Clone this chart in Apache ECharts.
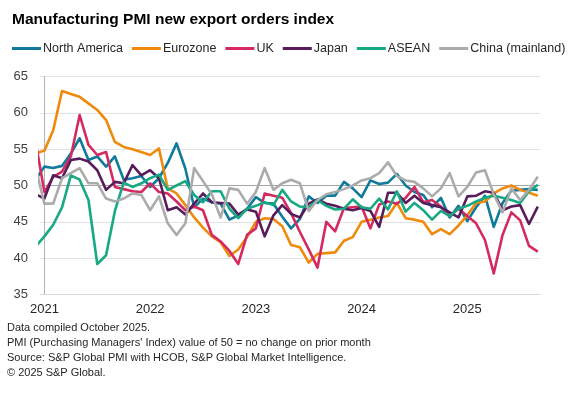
<!DOCTYPE html>
<html><head><meta charset="utf-8">
<script src="https://cdn.jsdelivr.net/npm/echarts@6/dist/echarts.min.js"></script>
<style>html,body{margin:0;padding:0;background:#fff}#c{width:580px;height:397px}</style>
</head><body><div id="c"></div>
<script>
// Monthly series, Dec 2020 (partly clipped at left edge) to Sep 2025
const firstMonth = { year: 2020, month: 12 };
const yearLabels = ['2021', '2022', '2023', '2024', '2025'];
const yearTickIndex = [0, 12, 24, 36, 48];
const yTicks = [35, 40, 45, 50, 55, 60, 65];

const northAmerica = [50.8, 52.6, 52.4, 52.7, 54.4, 56.5, 53.5, 54.0, 52.6, 54.0, 50.8,
  51.0, 51.3, 49.8, 51.0, 53.1, 55.8, 52.3, 47.0, 48.2, 47.7,
  47.5, 45.3, 45.9, 46.8, 48.4, 47.6, 47.5, 45.7, 44.1, 45.4,
  48.5, 47.6, 48.6, 48.6, 50.5, 49.6, 48.4, 50.7, 50.2, 50.4,
  51.6, 50.0, 49.1, 48.7, 47.0, 48.3, 45.6, 47.2, 45.1, 47.0,
  48.6, 44.3, 47.6, 49.3, 49.4, 49.5, 49.4];
const eurozone = [54.4, 54.8, 57.6, 63.0, 62.6, 62.2, 61.3, 60.4, 59.0, 56.0, 55.3,
  55.0, 54.6, 54.2, 55.1, 49.6, 48.9, 47.3, 45.6, 44.2, 43.0,
  42.2, 40.3, 41.2, 42.9, 45.0, 45.5, 45.4, 44.4, 41.8, 41.5,
  39.4, 40.6, 40.7, 40.8, 42.4, 42.9, 45.0, 45.3, 45.6, 45.8,
  47.6, 45.5, 45.3, 45.0, 43.3, 44.0, 43.3, 44.5, 45.9, 47.6,
  47.8, 48.9, 49.6, 50.0, 49.4, 49.0, 48.6];
const uk = [56.0, 49.1, 51.2, 51.9, 54.0, 59.7, 55.6, 54.2, 54.6, 49.8, 49.5,
  49.2, 49.1, 50.3, 49.1, 48.9, 47.8, 46.6, 47.1, 46.6, 43.2,
  42.3, 41.0, 39.2, 43.2, 44.1, 48.9, 48.6, 48.3, 46.2, 43.6,
  41.2, 38.7, 45.0, 43.7, 46.9, 47.0, 47.1, 44.1, 47.4, 47.8,
  47.5, 48.3, 49.8, 47.7, 48.0, 47.1, 45.8, 46.8, 45.8, 44.8,
  42.5, 37.9, 43.2, 46.3, 45.2, 41.7, 40.9];
const japan = [48.8, 48.2, 51.4, 51.0, 53.5, 53.7, 53.3, 52.1, 49.4, 50.5, 50.3,
  52.8, 51.4, 52.1, 51.0, 46.6, 47.0, 46.0, 47.5, 48.9, 47.7,
  47.6, 47.5, 46.0, 46.7, 46.4, 43.0, 45.9, 47.3, 46.1, 45.6,
  47.5, 48.1, 47.5, 47.2, 46.8, 46.6, 46.9, 46.5, 44.3, 49.0,
  49.0, 47.6, 48.6, 47.6, 47.3, 47.0, 46.3, 45.6, 48.5, 48.6,
  49.2, 49.0, 46.6, 47.1, 47.3, 44.7, 47.1];
const asean = [41.6, 43.0, 44.6, 47.0, 51.4, 50.8, 48.0, 39.2, 40.4, 46.5, 50.4,
  49.8, 50.3, 51.0, 51.5, 49.4, 50.0, 50.6, 48.7, 47.7, 49.2,
  49.2, 46.8, 45.5, 46.8, 47.2, 47.7, 47.3, 49.4, 47.8, 47.1,
  47.0, 48.0, 47.2, 46.7, 46.8, 48.1, 47.0, 46.8, 48.2, 46.7,
  49.2, 46.4, 47.6, 46.6, 45.3, 46.5, 45.8, 46.8, 47.2, 47.8,
  48.3, 48.6, 48.3, 48.0, 47.6, 49.2, 50.1];
const china = [52.5, 47.5, 47.5, 51.0, 51.7, 52.4, 50.3, 50.3, 48.2, 47.8, 48.2,
  48.9, 48.7, 46.6, 48.5, 44.8, 43.2, 44.8, 52.4, 50.6, 48.8,
  45.6, 49.6, 49.4, 47.5, 49.1, 52.4, 49.4, 50.3, 50.8, 50.3,
  46.5, 48.0, 48.8, 49.1, 49.5, 50.0, 50.7, 51.0, 51.7, 53.2,
  51.3, 50.7, 50.5, 49.6, 48.5, 49.6, 51.7, 48.5, 49.8, 51.8,
  52.1, 48.8, 46.3, 49.6, 48.0, 49.4, 51.2];

const seriesNames = ['North America', 'Eurozone', 'UK', 'Japan', 'ASEAN', 'China (mainland)'];
const seriesValues = [northAmerica, eurozone, uk, japan, asean, china];
const seriesColors = ['#0f7a9c', '#ef8a0c', '#d42a60', '#571c5c', '#17a884', '#ababab'];

const footnotes = [
  'Data compiled October 2025.',
  "PMI (Purchasing Managers' Index) value of 50 = no change on prior month",
  'Source: S&P Global PMI with HCOB, S&P Global Market Intelligence.',
  '\u00A9 2025 S&P Global.'
];

// month index: Jan 2021 = 0, Dec 2020 = -1
function monthIndex(k) { return k + (firstMonth.year - 2021) * 12 + (firstMonth.month - 1); }

const FONT = '"Liberation Sans", Arial, sans-serif';
const chart = echarts.init(document.getElementById('c'), null, { renderer: 'canvas' });
chart.setOption({
  animation: false,
  backgroundColor: '#ffffff',
  title: {
    text: 'Manufacturing PMI new export orders index',
    left: 7, top: 7,
    textStyle: { fontFamily: FONT, fontSize: 15.5, fontWeight: 'bold', color: '#000000' }
  },
  legend: {
    data: seriesNames,
    left: 12, top: 42, padding: 0,
    icon: 'rect', itemWidth: 29, itemHeight: 3, itemGap: 9,
    textStyle: { fontFamily: FONT, fontSize: 12.5, color: '#262626', padding: [0, 0, 0, -3] }
  },
  grid: { left: 40, right: 40, top: 76.5, bottom: 102.5, containLabel: false },
  xAxis: {
    type: 'value', min: -0.5, max: 56.25,
    splitLine: { show: false },
    axisTick: { show: false },
    axisLine: { show: true, lineStyle: { color: '#d9d9d9', width: 1 } },
    axisLabel: {
      customValues: yearTickIndex,
      formatter: function (v) { const p = yearTickIndex.indexOf(Math.round(v)); return p >= 0 ? yearLabels[p] : ''; },
      fontFamily: FONT, fontSize: 13, color: '#262626', margin: 8
    }
  },
  yAxis: {
    type: 'value', min: 35, max: 65, interval: 5,
    axisLine: { show: true, lineStyle: { color: '#b3b3b3', width: 1 } },
    axisTick: { show: false },
    axisLabel: { fontFamily: FONT, fontSize: 13, color: '#404040', margin: 12 },
    splitLine: { show: true, lineStyle: { width: 1, color: yTicks.map(t => t === 50 ? '#a6a6a6' : '#e3e3e3') } }
  },
  graphic: footnotes.map((t, i) => ({
    type: 'text', left: 7, top: 322 + i * 15,
    style: { text: t, fontFamily: FONT, fontSize: 11, fill: '#262626' }
  })),
  series: seriesNames.map((name, s) => ({
    name: name, type: 'line', showSymbol: false, symbol: 'none', clip: true,
    lineStyle: { width: 2.6, color: seriesColors[s], join: 'round' },
    itemStyle: { color: seriesColors[s] },
    data: seriesValues[s].map((v, k) => [monthIndex(k), v])
  }))
});
</script></body></html>
